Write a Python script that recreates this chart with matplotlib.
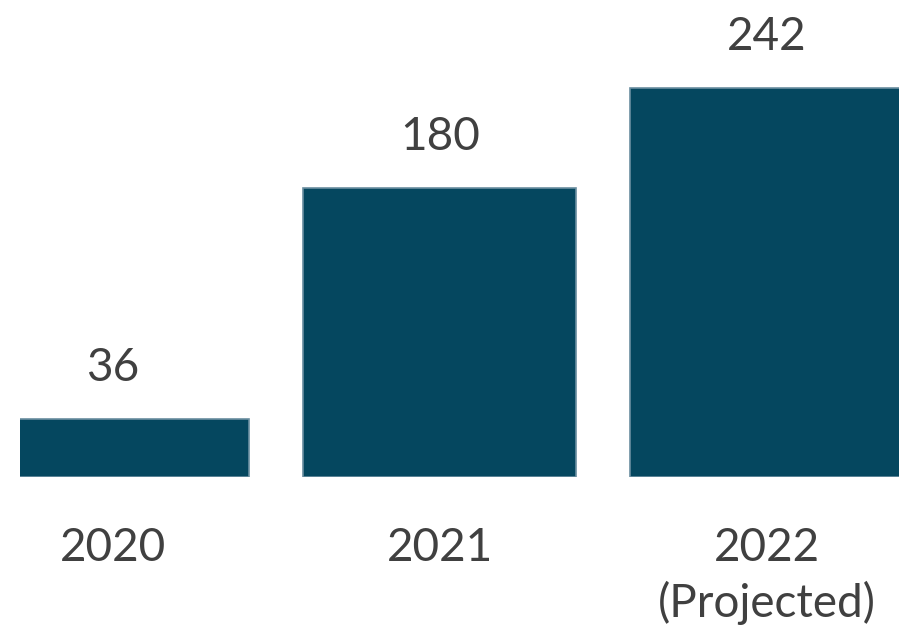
import matplotlib
matplotlib.use("Agg")
import matplotlib.pyplot as plt

years = ["2020", "2021", "2022\n(Projected)"]
values = [36, 180, 242]

bar_color = "#05475f"
edge_color = "#6a8ea0"
text_color = "#404040"

plt.rcParams["font.family"] = ["Lato", "DejaVu Sans"]

fig = plt.figure(figsize=(8.99, 6.35), dpi=100)
# axes spans from px x=20 to right edge, baseline at px y=477
ax = fig.add_axes([20 / 899, 1 - 477 / 635, 1 - 20 / 899, 477 / 635])

x = list(range(len(years)))
bars = ax.bar(x, values, width=0.835, color=bar_color,
              edgecolor=edge_color, linewidth=1.2)

ax.set_xlim(-0.284, 2.404)
ax.set_ylim(0, 297)

for b, v in zip(bars, values):
    ax.annotate(str(v), (b.get_x() + b.get_width() / 2, v),
                xytext=(0, 30), textcoords="offset pixels",
                ha="center", va="bottom", fontsize=33, color=text_color)

ax.set_xticks(x)
ax.set_xticklabels(years, fontsize=33, color=text_color, linespacing=1.33)
ax.tick_params(axis="x", length=0, pad=36)
ax.set_yticks([])
for s in ax.spines.values():
    s.set_visible(False)
ax.patch.set_alpha(0)

fig.savefig("out.png", dpi=100)
